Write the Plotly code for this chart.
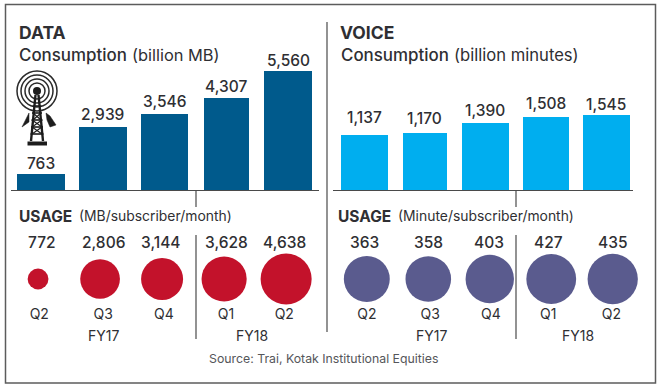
import plotly.graph_objects as go

quarters = ["Q2", "Q3", "Q4", "Q1", "Q2"]
periods = ["FY17 Q2", "FY17 Q3", "FY17 Q4", "FY18 Q1", "FY18 Q2"]
data_consumption = [763, 2939, 3546, 4307, 5560]
voice_consumption = [1137, 1170, 1390, 1508, 1545]
data_usage = [772, 2806, 3144, 3628, 4638]
voice_usage = [363, 358, 403, 427, 435]

W, H = 660, 388
FONT = "Inter"
TEXT = "#2f2f33"
DARK = "#005a8c"
CYAN = "#00aeef"
RED = "#c3122b"
PURPLE = "#5a5b8e"
LINE = "#4a4a4a"
data_widths = [0.78, 0.78, 0.77, 0.73, 0.78]
voice_widths = [0.77, 0.72, 0.77, 0.77, 0.77]
data_lift = [10, 13, 13, 11, 11]
voice_lift = [17, 15, 12, 13, 11]
data_value_nudge = [4, 3, -1, 2, -2]
voice_value_nudge = [-2, 0, -1, -3, 0]
data_tick_nudge = [0.02, 0.05, 0.03, 0.03, -0.03]
voice_tick_nudge = [0.0, 0.03, 0.02, -0.05, -0.02]


def px(x):
    return x / W


def py(y):
    return 1 - y / H


def dom(a, b):
    return [a / W, b / W]


def vdom(top, bottom):
    return [py(bottom), py(top)]


def fmt(v):
    return f"{v:,}"


fig = go.Figure()


def add_bars(vals, widths, lifts, color, xa, ya):
    fig.add_trace(go.Bar(
        x=list(range(5)), y=vals, width=widths, marker=dict(color=color, line=dict(width=0)),
        hoverinfo="y", customdata=periods, xaxis=xa, yaxis=ya, showlegend=False))
    for i, v in enumerate(vals):
        fig.add_annotation(x=i, xref=xa, y=v, yref=ya, yshift=lifts[i], text=fmt(v), showarrow=False,
                           xanchor="center", yanchor="middle",
                           font=dict(family=FONT, size=15.5, color=TEXT, weight=500))


def add_bubbles(vals, color, sizeref, xa, ya):
    fig.add_trace(go.Scatter(
        x=list(range(5)), y=[0.5] * 5, mode="markers", cliponaxis=False,
        marker=dict(size=vals, sizemode="area", sizeref=sizeref, color=color, opacity=1, line=dict(width=0)),
        customdata=periods, xaxis=xa, yaxis=ya, showlegend=False))


add_bars(data_consumption, data_widths, data_lift, DARK, "x", "y")
add_bars(voice_consumption, voice_widths, voice_lift, CYAN, "x2", "y2")
add_bubbles(data_usage, RED, 3.56, "x3", "y3")
add_bubbles(voice_usage, PURPLE, 0.344, "x4", "y4")

hidden_x = dict(showgrid=False, zeroline=False, showline=False, showticklabels=False, ticks="")
hidden_y = dict(showgrid=False, zeroline=False, showline=False, showticklabels=False, ticks="")


def qaxis(nudge):
    return dict(showgrid=False, zeroline=False, showline=False, ticks="", tickmode="array",
                tickvals=[i + n for i, n in enumerate(nudge)], ticktext=quarters,
                tickfont=dict(family=FONT, size=14, color=TEXT))


fig.update_layout(
    width=W, height=H, autosize=False, margin=dict(l=0, r=0, t=0, b=0),
    paper_bgcolor="white", plot_bgcolor="rgba(0,0,0,0)", bargap=0,
    xaxis=dict(domain=dom(12, 319), range=[-0.47, 4.5], **hidden_x),
    yaxis=dict(domain=vdom(60, 190), range=[0, 6075], **hidden_y),
    xaxis2=dict(domain=dom(333, 633), range=[-0.52, 4.44], **hidden_x),
    yaxis2=dict(domain=vdom(60, 190), range=[0, 2680], anchor="x2", **hidden_y),
    xaxis3=dict(domain=dom(12, 319), range=[-0.42, 4.53], anchor="y3", **qaxis(data_tick_nudge)),
    yaxis3=dict(domain=vdom(254, 304), range=[0, 1], anchor="x3", **hidden_y),
    xaxis4=dict(domain=dom(333, 633), range=[-0.55, 4.33], anchor="y4", **qaxis(voice_tick_nudge)),
    yaxis4=dict(domain=vdom(254, 304), range=[0, 1], anchor="x4", **hidden_y),
)

# value labels above the bubbles
for vals, xa, nudge in ((data_usage, "x3", data_value_nudge), (voice_usage, "x4", voice_value_nudge)):
    for i, v in enumerate(vals):
        fig.add_annotation(x=i, xref=xa, xshift=nudge[i], y=py(242), yref="paper", text=fmt(v), showarrow=False,
                           font=dict(family=FONT, size=15.5, color=TEXT, weight=500),
                           xanchor="center", yanchor="middle")


def label(x, y, text, size, anchor="left", color=TEXT, weight=400):
    fig.add_annotation(x=px(x), y=py(y), xref="paper", yref="paper", text=text, showarrow=False,
                       xanchor=anchor, yanchor="middle",
                       font=dict(family=FONT, size=size, color=color, weight=weight))


label(17, 32, "DATA", 17.5, weight=700)
label(338, 32, "VOICE", 17.5, weight=700)
label(17, 55, "Consumption", 16.9, weight=500)
label(130, 55, "(billion MB)", 16.4)
label(339, 55, "Consumption", 16.9, weight=500)
label(452, 55, "(billion minutes)", 16.6)
label(17, 216, "USAGE", 15.5, weight=700)
label(77, 216, "(MB/subscriber/month)", 13.9)
label(336, 216, "USAGE", 15.5, weight=700)
label(396, 216, "(Minute/subscriber/month)", 13.9)
label(104, 335, "FY17", 14, "center")
label(252, 335, "FY18", 14, "center")
label(431, 335, "FY17", 14, "center")
label(578, 335, "FY18", 14, "center")
label(323.5, 358, "Source: Trai, Kotak Institutional Equities", 12.3, "center", "#55565a")


def seg(x0, y0, x1, y1, color=LINE, width=1.2):
    fig.add_shape(type="line", xref="paper", yref="paper", x0=px(x0), y0=py(y0), x1=px(x1), y1=py(y1),
                  line=dict(color=color, width=width))


# frame
fig.add_shape(type="rect", xref="paper", yref="paper", x0=px(5.5), y0=py(4.5), x1=px(655.5), y1=py(383),
              line=dict(color="#5c5c5c", width=1.5), fillcolor="rgba(0,0,0,0)", layer="below")
seg(327, 22, 327, 332)
seg(11, 190.5, 319, 190.5)
seg(333, 190.5, 633, 190.5)
seg(196, 190.5, 196, 207)
seg(196, 235, 196, 339)
seg(516, 190.5, 516, 207)
seg(516, 235, 516, 339)

# tower icon
cx, cy = 37, 91
for r in (20, 16, 12, 8):
    fig.add_shape(type="circle", xref="paper", yref="paper",
                  x0=px(cx - r), x1=px(cx + r), y0=py(cy - r), y1=py(cy + r),
                  line=dict(color="#2a2a2a", width=1.5))
fig.add_shape(type="circle", xref="paper", yref="paper",
              x0=px(cx - 4), x1=px(cx + 4), y0=py(cy - 4), y1=py(cy + 4),
              line=dict(width=0), fillcolor="#1c1c1c")
seg(35.5, 95, 31, 141, "#1c1c1c", 2.4)
seg(38.5, 95, 43, 141, "#1c1c1c", 2.4)
for y, half in ((106, 4.5), (113, 5), (120, 5.5), (127, 6), (134, 6.5)):
    seg(cx - half, y, cx + half, y, "#1c1c1c", 1.6)
seg(33, 113, 41, 120, "#1c1c1c", 1.2)
seg(41, 113, 33, 120, "#1c1c1c", 1.2)
seg(32, 120, 42, 127, "#1c1c1c", 1.2)
seg(42, 120, 32, 127, "#1c1c1c", 1.2)
seg(32, 127, 42, 134, "#1c1c1c", 1.2)
seg(42, 127, 32, 134, "#1c1c1c", 1.2)
seg(27.5, 143.5, 47, 143.5, "#1c1c1c", 4)


def poly(points):
    path = "M " + " L ".join(f"{px(a):.5f},{py(b):.5f}" for a, b in points) + " Z"
    fig.add_shape(type="path", xref="paper", yref="paper", path=path,
                  fillcolor="#1c1c1c", line=dict(color="#1c1c1c", width=0.5))


poly([(29, 113), (26, 119), (22, 127), (29, 122)])
poly([(46, 113), (50, 116), (56, 125), (50, 127), (47, 120)])

fig.write_html("out.html", config=dict(displayModeBar=False),
               post_script="document.body.style.margin='0';document.documentElement.style.overflow='hidden';")
